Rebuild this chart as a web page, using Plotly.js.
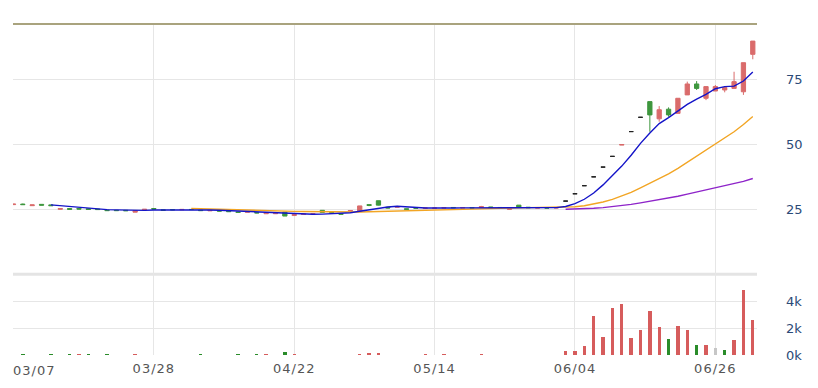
<!DOCTYPE html>
<html>
<head>
<meta charset="utf-8">
<script src="https://cdn.plot.ly/plotly-3.0.1.min.js"></script>
<style>html,body{margin:0;padding:0;background:#fff;}#chart{width:818px;height:388px;}
.xtick text, .annotation-text { letter-spacing: 1px; }</style>
</head>
<body>
<div id="chart"></div>
<script>
// ---- data ----
const dates = ["03/07","03/08","03/11","03/12","03/13","03/14","03/15","03/18","03/19","03/20",
"03/21","03/22","03/25","03/26","03/27","03/28","03/29","04/01","04/02","04/03",
"04/08","04/09","04/10","04/11","04/12","04/15","04/16","04/17","04/18","04/19",
"04/22","04/23","04/24","04/25","04/26","04/29","04/30","05/02","05/03","05/06",
"05/07","05/08","05/09","05/10","05/13","05/14","05/15","05/16","05/17","05/20",
"05/21","05/22","05/23","05/24","05/27","05/28","05/29","05/30","05/31","06/03",
"06/04","06/05","06/06","06/07","06/11","06/12","06/13","06/14","06/17","06/18",
"06/19","06/20","06/21","06/24","06/25","06/26","06/27","06/28","07/01","07/02"];

const openP = [26.8,27.0,26.4,26.9,26.7,25.0,25.3,25.3,25.2,25.1,
24.7,24.6,24.6,23.9,24.7,25.3,24.8,24.9,24.8,24.95,
24.7,24.4,24.5,24.3,24.0,23.9,23.8,23.3,23.3,23.9,
22.6,23.0,23.1,24.6,23.7,23.3,24.3,24.1,26.8,28.3,
25.8,25.8,25.2,25.6,25.4,25.4,25.5,25.7,25.5,25.6,
25.7,25.9,25.7,25.0,26.6,25.8,25.5,25.5,25.5,28.16,
30.98,34.08,37.49,41.24,45.36,49.7,54.89,60.38,66.42,59.8,
63.5,61.9,69.0,73.2,67.7,70.5,70.9,71.5,70.2,84.6];

const highP = [27.0,27.2,26.7,26.9,26.7,25.4,25.3,25.3,25.2,25.1,
24.7,24.7,24.6,24.5,25.0,25.3,24.8,24.9,25.0,25.0,
24.7,24.7,24.5,24.3,24.0,24.1,23.8,23.7,23.6,23.9,
23.0,23.3,23.3,24.6,23.8,23.3,24.6,26.3,26.8,28.3,
25.8,26.3,25.2,25.6,25.6,25.6,25.7,25.7,25.7,25.6,
26.3,25.9,25.7,25.3,26.6,25.8,25.6,25.6,25.6,28.16,
30.98,34.08,37.49,41.24,45.36,49.9,54.89,60.38,66.42,64.7,
64.2,67.7,74.1,74.3,72.2,72.8,71.8,77.9,81.4,89.7];

const lowP = [26.8,26.8,26.4,26.6,26.3,24.9,24.9,25.0,24.9,24.8,
24.4,24.4,24.4,23.9,24.6,25.1,24.5,24.7,24.8,24.8,
24.4,24.4,24.2,24.0,23.6,23.9,23.5,23.3,23.3,22.4,
22.6,23.0,23.1,23.8,23.5,23.0,24.3,24.1,26.2,26.5,
25.4,25.8,24.9,25.3,25.4,25.4,25.5,25.5,25.5,25.4,
25.7,25.6,25.5,25.0,25.9,25.6,25.5,25.4,25.5,28.16,
30.98,34.08,37.49,41.24,45.36,49.7,54.89,60.38,54.8,58.7,
60.6,61.9,69.0,70.9,67.0,70.5,70.0,71.5,69.0,82.7];

const closeP = [27.0,26.8,26.7,26.6,26.4,25.3,25.0,25.1,24.95,24.9,
24.5,24.5,24.45,24.5,25.0,25.1,24.6,24.8,24.95,24.9,
24.5,24.6,24.3,24.1,23.8,24.0,23.6,23.7,23.5,22.4,
23.0,23.2,23.3,23.8,23.6,23.1,24.5,26.3,26.5,26.6,
25.5,26.0,25.0,25.4,25.5,25.5,25.6,25.6,25.6,25.5,
26.0,25.7,25.6,25.2,25.9,25.6,25.55,25.5,25.6,28.16,
30.98,34.08,37.49,41.24,45.36,49.9,54.89,60.38,61.3,63.3,
61.3,67.7,73.2,71.5,72.2,72.2,71.8,74.1,81.4,89.7];

const volume = [20,60,10,10,50,10,60,60,60,10,
50,10,10,50,10,10,10,10,10,10,
60,10,10,10,60,10,60,60,10,220,
60,10,10,10,10,10,10,80,180,180,
10,10,10,10,50,10,50,10,10,10,
60,10,10,10,10,10,10,10,10,300,
300,670,2920,1320,3500,3800,1250,1870,3300,2070,
1220,2170,1870,750,750,500,370,1120,4870,2620];

const priceTicks = [25, 50, 75];
const volTicks = [0, 2000, 4000];
const volTickText = ["0k", "2k", "4k"];
const xTickIdx = [0, 15, 30, 45, 60, 75];

// ---- styles ----
const RED = "#d65c5c", GREEN = "#2a8c2a", GRAY = "#c6c6c6";
const GRID = "#e6e6e6";

// split regular candles and one-price (flat) days
const isFlat = dates.map((d, i) => openP[i] === highP[i] && highP[i] === lowP[i] && lowP[i] === closeP[i]);
const pick = (arr, flat) => arr.map((v, i) => (isFlat[i] === flat ? v : null));

function ma(period) {
  return closeP.map((_, i) => {
    if (i < period - 1) return null;
    let s = 0;
    for (let k = i - period + 1; k <= i; k++) s += closeP[k];
    return s / period;
  });
}

const volColors = closeP.map((c, i) => {
  const prev = i === 0 ? openP[0] : closeP[i - 1];
  return c > prev ? RED : (c < prev ? GREEN : GRAY);
});

const traces = [
  {
    type: "candlestick", x: dates,
    open: pick(openP, false), high: pick(highP, false), low: pick(lowP, false), close: pick(closeP, false),
    increasing: {line: {color: RED, width: 1}, fillcolor: RED},
    decreasing: {line: {color: GREEN, width: 1}, fillcolor: GREEN},
    xaxis: "x", yaxis: "y", hoverinfo: "skip", opacity: 0.9
  },
  {
    type: "candlestick", x: dates,
    open: pick(openP, true), high: pick(highP, true), low: pick(lowP, true), close: pick(closeP, true),
    increasing: {line: {color: "#222", width: 1}, fillcolor: "#222"},
    decreasing: {line: {color: "#222", width: 1}, fillcolor: "#222"},
    xaxis: "x", yaxis: "y", hoverinfo: "skip"
  },
  {type: "scatter", mode: "lines", x: dates, y: ma(60), line: {color: "#8e24c9", width: 1.4}, xaxis: "x", yaxis: "y", hoverinfo: "skip"},
  {type: "scatter", mode: "lines", x: dates, y: ma(20), line: {color: "#f2a524", width: 1.4}, xaxis: "x", yaxis: "y", hoverinfo: "skip"},
  {type: "scatter", mode: "lines", x: dates, y: ma(5), line: {color: "#1414c8", width: 1.4}, xaxis: "x", yaxis: "y", hoverinfo: "skip"},
  {type: "bar", x: dates, y: volume, marker: {color: volColors, line: {width: 0}}, width: 0.36,
   xaxis: "x", yaxis: "y2", hoverinfo: "skip"}
];

const splitFrac = 0.2438;
const tickFont = {family: "DejaVu Sans, sans-serif", size: 13, color: "#555"};
const yFont = {family: "DejaVu Sans, sans-serif", size: 13, color: "#2b4a77"};

const layout = {
  width: 818, height: 388,
  margin: {l: 13, r: 61, t: 24, b: 33},
  paper_bgcolor: "#fff", plot_bgcolor: "#fff",
  showlegend: false, boxgap: 0.35, bargap: 0,
  xaxis: {
    type: "category", range: [-0.05, 79.45], anchor: "y2",
    tickmode: "array", tickvals: xTickIdx.map(i => dates[i]),
    ticktext: xTickIdx.map((i, k) => (k === 0 ? "" : dates[i])),
    showgrid: true, gridcolor: GRID, gridwidth: 1, ticks: "", showline: false, zeroline: false,
    ticklabelstandoff: 4,
    tickfont: tickFont, rangeslider: {visible: false}, fixedrange: true
  },
  yaxis: {
    domain: [splitFrac, 1], range: [0, 96.27], side: "right", anchor: "x",
    tickmode: "array", tickvals: priceTicks, showgrid: true, gridcolor: GRID, gridwidth: 1,
    zeroline: false, ticks: "", ticklabelstandoff: 28, tickfont: yFont, fixedrange: true
  },
  yaxis2: {
    domain: [0, splitFrac], range: [0, 6045], side: "right", anchor: "x",
    tickmode: "array", tickvals: volTicks, ticktext: volTickText, showgrid: true, gridcolor: GRID, gridwidth: 1,
    zeroline: false, ticks: "", ticklabelstandoff: 28, tickfont: yFont, fixedrange: true
  },
  shapes: [
    {type: "line", xref: "paper", yref: "paper", x0: 0, x1: 1, y0: 1, y1: 1, line: {color: "#a9a37e", width: 2}},
    {type: "line", xref: "paper", yref: "paper", x0: 0, x1: 1, y0: splitFrac, y1: splitFrac, line: {color: "#e4e4e4", width: 3}, layer: "below"}
  ],
  annotations: [
    {text: dates[0], xref: "paper", yref: "paper", x: 0, y: 0, xanchor: "left", yanchor: "top",
     yshift: -6, xshift: -2, showarrow: false, font: tickFont}
  ]
};

Plotly.newPlot("chart", traces, layout, {displayModeBar: false, staticPlot: true});
</script>
</body>
</html>
